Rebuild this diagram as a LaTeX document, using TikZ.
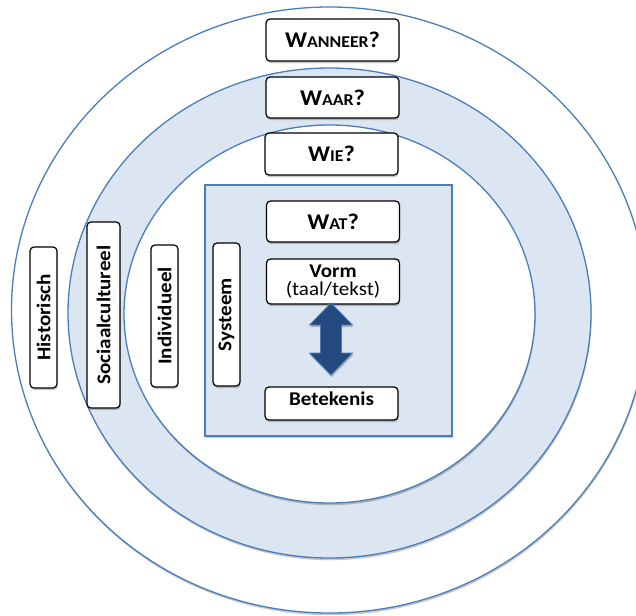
\documentclass[tikz,border=0pt]{standalone}
\usepackage{fontspec}
\setmainfont[FakeStretch=1.08]{Carlito}
\usetikzlibrary{shadows}
\definecolor{ringblue}{HTML}{DCE6F2}
\definecolor{lineblue}{HTML}{4A7EBB}
\definecolor{arrowblue}{HTML}{23497E}
\newcommand{\bigsc}[1]{{\fontsize{22.5}{24}\selectfont #1}}
\newcommand{\smallsc}[1]{{\fontsize{16.5}{18}\selectfont #1}}
\begin{document}
\begin{tikzpicture}[x=1pt,y=-1pt,
  softshadow/.style={drop shadow={shadow xshift=0.6pt, shadow yshift=-2.2pt, opacity=0.22, fill=black}},
  ring/.style={draw=lineblue, line width=1.3pt, softshadow},
  qbox/.style={draw=black, line width=1.2pt, fill=white, rounded corners=4pt,
    minimum width=133pt, minimum height=42pt, inner sep=0pt, align=center,
    font=\bfseries\fontsize{19.5}{21}\selectfont, softshadow},
  vbox/.style={qbox, rotate=90, minimum height=27pt}]
\useasboundingbox (0,0) rectangle (636,615);
\clip (0,0) rectangle (636,615);
% rings
\draw[ring, fill=white] (329.5,310) ellipse [x radius=318, y radius=303];
\draw[ring, fill=ringblue] (329.5,313) ellipse [x radius=261.5, y radius=245];
\draw[ring, fill=white] (329.5,314) ellipse [x radius=205.5, y radius=189];
% system rectangle
\draw[ring, fill=ringblue] (205,185) rectangle (452,436);
% question boxes
\node[qbox] (wanneer) at (332.5,40) {\bigsc{W}\smallsc{ANNEER}\bigsc{?}};
\node[qbox, minimum height=41pt] (waar) at (332.5,97.5) {\bigsc{W}\smallsc{AAR}\bigsc{?}};
\node[qbox] (wie) at (331.5,154) {\bigsc{W}\smallsc{IE}\bigsc{?}};
\node[qbox, minimum height=41pt] (wat) at (333,221.5) {\bigsc{W}\smallsc{AT}\bigsc{?}};
\node[qbox, minimum height=45pt] (vorm) at (333,281.5) {Vorm\\[-3pt]\mdseries (taal/tekst)};
\node[qbox, minimum height=33pt] (betekenis) at (331.5,403.5) {};
\node[font=\bfseries\fontsize{19.5}{21}\selectfont, yshift=5pt] (betekenistxt) at (betekenis.center) {Betekenis};
% vertical labels
\node[vbox, minimum width=141pt] (historisch) at (43.5,317.5) {Historisch};
\node[vbox, minimum width=186pt, minimum height=33pt] (sociaal) at (103.5,315) {Sociaalcultureel};
\node[vbox, minimum width=142pt] (individueel) at (164.5,316) {Individueel};
\node[vbox, minimum width=143pt] (systeem) at (226.5,314.5) {Systeem};
% double block arrow
\filldraw[fill=arrowblue, draw=lineblue, line width=0.8pt, softshadow]
  (331,303) -- (352.5,325) -- (341.5,325) -- (341.5,353) -- (352.5,353) -- (331,375)
  -- (309.5,353) -- (320.5,353) -- (320.5,325) -- (309.5,325) -- cycle;
\end{tikzpicture}
\end{document}
